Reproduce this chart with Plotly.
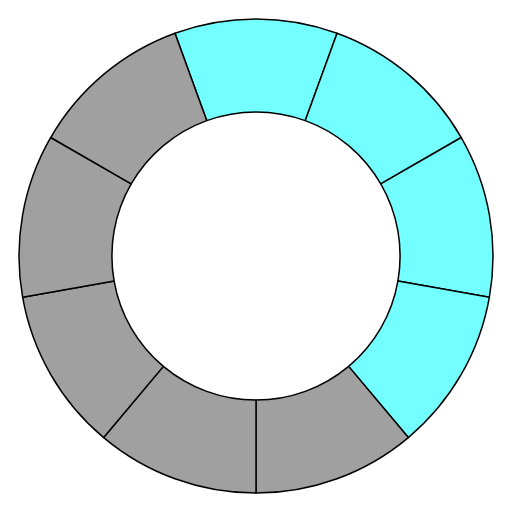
import plotly.graph_objects as go

labels = ["A", "B", "C", "D", "E", "F", "G", "H", "I"]
values = [1, 1, 1, 1, 1, 1, 1, 1, 1]
colors = ["#73ffff"] * 4 + ["#a0a0a0"] * 5

fig = go.Figure(go.Pie(
    labels=labels,
    values=values,
    hole=0.608,
    sort=False,
    direction="clockwise",
    rotation=-20,
    textinfo="none",
    hoverinfo="none",
    marker=dict(colors=colors, line=dict(color="black", width=1.5)),
    showlegend=False,
))
fig.update_layout(
    width=512, height=512,
    margin=dict(l=11, r=27, t=11, b=27),
    paper_bgcolor="white", plot_bgcolor="white",
)
fig.write_html("out.html")
